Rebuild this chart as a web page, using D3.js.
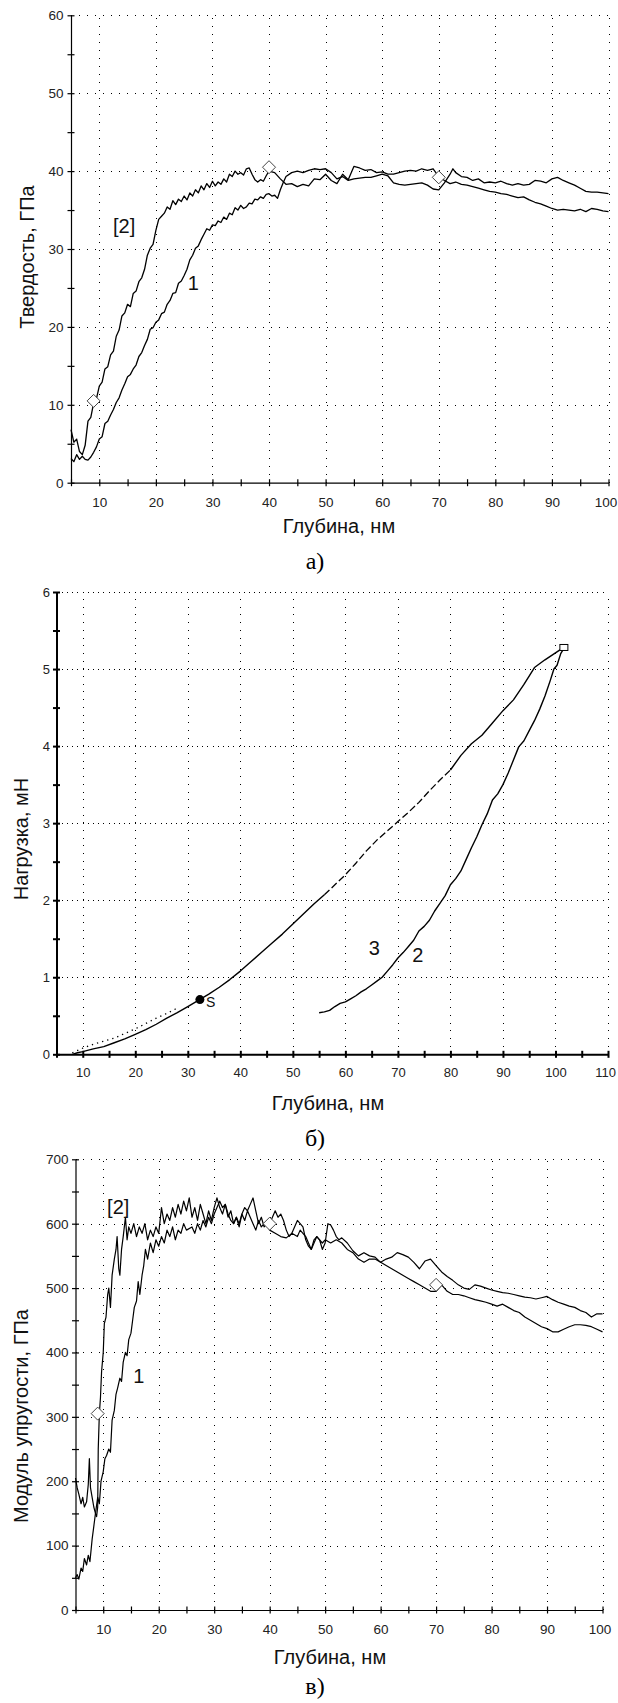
<!DOCTYPE html>
<html lang="ru">
<head>
<meta charset="utf-8">
<script src="https://d3js.org/d3.v7.min.js"></script>
<style>
  body { margin: 0; background: #fff; }
  svg { display: block; font-family: "Liberation Sans", Arial, sans-serif; }
  .curve { fill: none; stroke: #000; stroke-linejoin: round; }
  .title { font-size: 20px; fill: #111; }
  .note { font-size: 20px; fill: #111; }
  .caption { font-family: "Liberation Serif", "Times New Roman", serif; font-size: 24px; fill: #000; }
</style>
</head>
<body>
<script>
// ---- а) Твердость ----
var hardTicksX = [5,10,15,20,25,30,35,40,45,50,55,60,65,70,75,80,85,90,95,100];
var hardLabelsX = [10,20,30,40,50,60,70,80,90,100];
var hardTicksY = [0,5,10,15,20,25,30,35,40,45,50,55,60];
var hardLabelsY = [0,10,20,30,40,50,60];

var hard2 = [[5,6.8],[5.5,5.2],[6,5.6],[6.5,4.0],[7,3.6],[7.5,4.8],[8,7.9],[8.5,8.4],[9,10.2],[9.5,10.8],
  [10,12.4],[10.5,12.9],[11,14.6],[11.5,14.9],[12,16.4],[12.5,16.9],[13,18.8],[13.5,19.6],[14,21.4],[14.5,21.8],
  [15,22.9],[15.5,22.6],[16,24.3],[16.5,24.6],[17,25.8],[17.5,26.3],[18,27.4],[18.5,29.2],[19,30.1],[19.5,30.6],
  [20,32.4],[20.5,33.8],[21,34.2],[21.5,34.6],[22,35.4],[22.5,35.1],[23,36.2],[23.5,35.7],[24,36.4],[24.5,36.1],
  [25,36.8],[25.5,36.3],[26,37.2],[26.5,36.8],[27,37.6],[27.5,37.2],[28,38.1],[28.5,37.6],[29,38.4],[29.5,37.9],
  [30,38.7],[30.5,38.1],[31,38.6],[31.5,38.3],[32,39.0],[32.5,38.6],[33,39.6],[33.5,39.3],[34,40.0],[34.5,39.6],
  [35,39.8],[35.5,39.5],[36,40.3],[36.5,40.4],[37,39.6],[37.5,38.9],[38,38.6],[38.5,38.9],[39,38.7],[39.5,39.4],
  [40,40.0],[41,39.8],[42,39.0],[43,38.3],[44,38.4],[45,38.0],[46,38.3],[47,38.1],[48,39.0],[49,38.9],
  [50,39.6],[51,38.8],[52,38.4],[53,39.6],[54,38.9],[55,40.6],[56,40.4],[57,40.1],[58,40.2],[59,39.8],
  [60,39.9],[61,39.6],[62,39.6],[63,39.8],[64,40.0],[65,40.1],[66,40.0],[67,40.3],[68,40.1],[69,40.3],
  [70,39.3],[71,38.8],[72,38.4],[73,38.6],[74,38.3],[75,38.2],[76,38.0],[77,37.8],[78,37.6],[79,37.4],
  [80,37.3],[81,37.1],[82,37.0],[83,36.8],[84,36.6],[85,36.7],[86,36.3],[87,36.0],[88,35.8],[89,35.5],
  [90,35.2],[91,35.0],[92,35.1],[93,35.0],[94,34.9],[95,35.1],[96,34.8],[97,35.2],[98,35.1],[99,34.9],[100,34.8]];

var hard1 = [[5,3.1],[5.5,2.7],[6,3.6],[6.5,3.0],[7,3.4],[7.5,3.0],[8,2.9],[8.5,3.3],[9,3.9],[9.5,4.6],
  [10,5.6],[10.5,5.9],[11,7.6],[11.5,7.9],[12,8.7],[12.5,9.4],[13,10.3],[13.5,10.9],[14,11.9],[14.5,12.7],
  [15,13.6],[15.5,13.9],[16,14.6],[16.5,15.1],[17,16.2],[17.5,16.7],[18,17.6],[18.5,18.4],[19,19.7],[19.5,19.9],
  [20,20.6],[20.5,20.9],[21,21.7],[21.5,21.9],[22,22.9],[22.5,23.4],[23,24.3],[23.5,24.4],[24,25.6],[24.5,25.9],
  [25,26.6],[25.5,27.4],[26,28.6],[26.5,29.2],[27,30.1],[27.5,30.4],[28,31.2],[28.5,31.9],[29,32.6],[29.5,32.4],
  [30,33.1],[30.5,33.0],[31,33.6],[31.5,33.4],[32,34.1],[32.5,33.8],[33,34.6],[33.5,34.4],[34,35.3],[34.5,35.0],
  [35,35.6],[35.5,35.2],[36,35.4],[36.5,35.9],[37,35.8],[37.5,36.4],[38,36.3],[38.5,36.7],[39,36.5],[39.5,37.0],
  [40,37.1],[40.5,36.8],[41,36.9],[41.5,36.5],[42,37.6],[42.5,38.5],[43,39.3],[44,39.8],[45,40.0],[46,39.8],
  [47,40.1],[48,40.3],[49,40.2],[50,40.3],[51,39.8],[52,39.0],[53,39.3],[54,38.8],[55,39.0],[56,39.1],
  [57,39.2],[58,39.2],[59,39.4],[60,39.6],[61,39.4],[62,38.5],[63,38.3],[64,38.2],[65,38.3],[66,38.4],
  [67,38.5],[68,38.2],[69,37.7],[70,37.6],[71,38.5],[72,39.6],[72.5,40.3],[73,39.8],[74,39.3],[75,39.2],
  [76,38.8],[77,39.0],[78,38.5],[79,38.6],[80,38.5],[81,38.7],[82,38.4],[83,38.2],[84,38.4],[85,38.2],
  [86,38.3],[87,38.8],[88,38.7],[89,38.5],[90,39.0],[91,39.2],[92,38.8],[93,38.5],[94,38.2],[95,37.8],
  [96,37.4],[97,37.3],[98,37.3],[99,37.2],[100,37.1]];

var hardMarks = [[9,10.5],[40,40.5],[70,39.2]];

// ---- б) Нагрузка ----
var loadTicksX = [5,10,15,20,25,30,35,40,45,50,55,60,65,70,75,80,85,90,95,100,105,110];
var loadLabelsX = [10,20,30,40,50,60,70,80,90,100,110];
var loadTicksY = [0,0.5,1,1.5,2,2.5,3,3.5,4,4.5,5,5.5,6];
var loadLabelsY = [0,1,2,3,4,5,6];

var loading = [[8,0.0],[9,0.02],[10,0.035],[12,0.07],[14,0.1],[16,0.15],[18,0.2],[20,0.26],[22,0.32],
  [24,0.39],[26,0.47],[28,0.54],[30,0.62],[32,0.7],[34,0.78],[36,0.87],[38,0.97],[40,1.08],[42,1.2],
  [44,1.32],[46,1.44],[48,1.56],[50,1.69],[52,1.82],[54,1.95],[56,2.07],[58,2.2],[60,2.33],[62,2.48],
  [64,2.64],[66,2.78],[68,2.9],[70,3.02],[72,3.14],[74,3.27],[76,3.42],[78,3.56],[80,3.69],[82,3.88],
  [84,4.03],[86,4.14],[88,4.3],[90,4.46],[92,4.6],[94,4.8],[96,5.02],[98,5.12],[100,5.21],[101.8,5.29]];

var unloading = [[101.8,5.29],[101,5.2],[100.3,5.05],[99.7,5.0],[99,4.85],[98,4.65],[97,4.48],[96,4.33],
  [95,4.2],[94,4.07],[93,3.99],[92,3.82],[91,3.65],[90,3.5],[89,3.38],[88,3.3],[87,3.12],[86,2.98],
  [85,2.82],[84,2.68],[83,2.53],[82,2.38],[81,2.28],[80,2.2],[79,2.06],[78,1.96],[77,1.86],[76,1.74],
  [75,1.66],[74,1.6],[73,1.48],[72,1.4],[71,1.32],[70,1.25],[69,1.16],[68,1.08],[67,1.0],[66,0.95],
  [65,0.9],[64,0.85],[63,0.81],[62,0.76],[61,0.72],[60,0.68],[59,0.66],[58,0.62],[57,0.57],[56,0.55],[55,0.54]];

var fitDots = [[8,0.02],[10,0.08],[12,0.13],[14,0.17],[16,0.21],[18,0.27],[20,0.33],[22,0.4],[24,0.47],[26,0.53],[28,0.6]];

var loadDot = [32.3, 0.71];
var loadTop = [101.6, 5.28];

// ---- в) Модуль упругости ----
var modTicksX = [5,10,15,20,25,30,35,40,45,50,55,60,65,70,75,80,85,90,95,100];
var modLabelsX = [10,20,30,40,50,60,70,80,90,100];
var modTicksY = [0,50,100,150,200,250,300,350,400,450,500,550,600,650,700];
var modLabelsY = [0,100,200,300,400,500,600,700];

var mod2 = [[5,205],[5.3,190],[5.6,180],[6,165],[6.3,175],[6.6,160],[7,168],[7.3,195],[7.5,235],[7.7,190],
  [8,175],[8.3,160],[8.6,150],[8.8,145],[9,160],[9.1,250],[9.3,305],[9.5,330],[9.7,370],[10,400],
  [10.2,445],[10.5,455],[10.8,490],[11,500],[11.3,470],[11.6,520],[12,545],[12.3,560],[12.5,580],[12.8,530],
  [13,520],[13.3,560],[13.6,580],[14,610],[14.3,575],[14.6,595],[15,585],[15.5,600],[16,580],[16.5,595],
  [17,585],[17.5,600],[18,575],[18.5,590],[19,580],[19.5,595],[20,585],[20.5,625],[21,600],[21.5,615],
  [22,605],[22.5,625],[23,610],[23.5,630],[24,615],[24.5,635],[25,620],[25.5,640],[26,610],[26.5,625],
  [27,605],[27.5,630],[28,615],[28.5,600],[29,620],[29.5,605],[30,625],[30.5,640],[31,625],[31.5,615],
  [32,630],[32.5,610],[33,620],[33.5,600],[34,610],[34.5,595],[35,615],[35.5,605],[36,620],[36.5,610],
  [37,600],[37.5,590],[38,605],[38.5,595],[39,600],[40,600],[40.5,610],[41,620],[41.5,610],[42,615],
  [42.5,605],[43,590],[43.5,580],[44,585],[45,580],[45.5,590],[46,585],[46.5,580],[47,570],[47.5,560],
  [48,575],[48.5,580],[49,575],[49.5,570],[50,575],[51,570],[52,575],[53,570],[54,560],[55,555],
  [56,545],[57,540],[58,545],[59,545],[60,540],[61,535],[62,530],[63,525],[64,520],[65,515],
  [66,510],[67,505],[68,500],[69,495],[70,495],[71,505],[72,495],[73,490],[74,490],[75,488],
  [76,485],[77,482],[78,480],[79,478],[80,475],[81,472],[82,475],[83,470],[84,465],[85,462],
  [86,455],[87,450],[88,445],[89,440],[90,437],[91,432],[92,432],[93,436],[94,440],[95,443],
  [96,443],[97,442],[98,440],[99,436],[100,432]];

var mod1 = [[5,50],[5.3,55],[5.6,48],[6,65],[6.3,60],[6.6,80],[7,70],[7.3,85],[7.6,75],[8,110],
  [8.3,130],[8.6,150],[9,175],[9.3,165],[9.6,200],[10,215],[10.3,235],[10.6,240],[11,250],[11.3,245],
  [11.6,295],[12,310],[12.3,335],[12.6,345],[13,360],[13.3,355],[13.6,385],[14,400],[14.3,395],[14.6,420],
  [15,430],[15.3,450],[15.6,470],[16,480],[16.3,510],[16.6,490],[17,520],[17.3,535],[17.6,560],[18,545],
  [18.5,570],[19,555],[19.5,575],[20,565],[20.5,580],[21,570],[21.5,590],[22,580],[22.5,595],[23,575],
  [23.5,590],[24,585],[24.5,600],[25,590],[26,595],[26.5,585],[27,600],[27.5,590],[28,605],[28.5,595],
  [29,610],[29.5,600],[30,615],[30.5,625],[31,635],[31.5,625],[32,630],[32.5,615],[33,605],[33.5,600],
  [34,610],[34.5,600],[35,615],[35.5,625],[36,620],[36.5,630],[37,640],[37.5,620],[38,600],[38.5,610],
  [39,595],[39.5,600],[40,590],[41,585],[42,580],[43,578],[44,585],[45,605],[45.5,600],[46,595],
  [46.5,575],[47,565],[47.5,560],[48,570],[48.5,580],[49,575],[49.5,560],[50,570],[50.5,600],[51,598],
  [51.5,590],[52,580],[52.5,575],[53,578],[54,570],[55,558],[56,550],[57,555],[58,550],[59,548],
  [60,540],[61,545],[62,548],[63,555],[64,552],[65,548],[66,540],[67,530],[68,542],[69,545],
  [70,535],[71,525],[72,518],[73,512],[74,505],[75,500],[76,498],[77,505],[78,503],[79,500],
  [80,497],[81,495],[82,493],[83,492],[84,490],[85,488],[86,486],[87,485],[88,483],[89,485],
  [90,487],[91,482],[92,478],[93,475],[94,472],[95,470],[96,465],[97,462],[98,455],[99,460],[100,460]];

var modMarks = [[9,305],[40,600],[70,505]];

var svg = d3.select("body").append("svg")
  .attr("width", 618)
  .attr("height", 1703)
  .style("background-color", "white");

var diamond = "M0,-6.5L6.5,0L0,6.5L-6.5,0Z";

function drawPanel(p) {
  var x = d3.scaleLinear().domain(p.xDomain).range(p.xRange);
  var y = d3.scaleLinear().domain(p.yDomain).range(p.yRange);
  var g = svg.append("g");

  // dotted grid
  g.selectAll("line.vgrid").data(p.xLabels).enter().append("line")
    .attr("x1", function(d) { return Math.round(x(d)) + 0.5; })
    .attr("x2", function(d) { return Math.round(x(d)) + 0.5; })
    .attr("y1", y(p.yDomain[0])).attr("y2", y(p.yDomain[1]))
    .attr("stroke", "#000").attr("stroke-dasharray", p.vDash)
    .attr("shape-rendering", "crispEdges");
  g.selectAll("line.hgrid").data(p.yLabels.filter(function(d) { return d > p.yDomain[0]; })).enter().append("line")
    .attr("x1", x(p.xDomain[0])).attr("x2", x(p.xDomain[1]))
    .attr("y1", function(d) { return Math.round(y(d)) + 0.5; })
    .attr("y2", function(d) { return Math.round(y(d)) + 0.5; })
    .attr("stroke", "#000").attr("stroke-dasharray", p.hDash)
    .attr("shape-rendering", "crispEdges");

  // axes, ticks crossing the axis line
  var xAxis = d3.axisBottom(x).tickValues(p.xTicks).tickSizeInner(3).tickSizeOuter(0)
    .tickFormat(function(d) { return p.xLabels.indexOf(d) >= 0 ? d : ""; });
  var gx = g.append("g")
    .attr("transform", "translate(0," + y(p.yDomain[0]) + ")")
    .call(xAxis);
  gx.attr("font-family", null).attr("font-size", p.tickFont);
  gx.selectAll(".tick line").attr("y1", -3.5).attr("y2", 3.5).attr("stroke-width", p.axisWidth);
  gx.selectAll(".tick text").attr("y", p.xLabelDy).attr("dy", 0).attr("fill", "#222")
    .attr("x", function(d) { return d === p.xDomain[1] ? -3 : 0; });
  gx.select(".domain").attr("stroke-width", p.axisWidth);

  var yAxis = d3.axisLeft(y).tickValues(p.yTicks).tickSizeInner(3).tickSizeOuter(0)
    .tickFormat(function(d) { return p.yLabels.indexOf(d) >= 0 ? d : ""; });
  var gy = g.append("g")
    .attr("transform", "translate(" + x(p.xDomain[0]) + ",0)")
    .call(yAxis);
  gy.attr("font-family", null).attr("font-size", p.tickFont);
  gy.selectAll(".tick line").attr("x1", -3.5).attr("x2", 3.5).attr("stroke-width", p.axisWidth);
  gy.selectAll(".tick text").attr("x", p.yLabelDx).attr("fill", "#222");
  gy.select(".domain").attr("stroke-width", p.axisWidth);

  var line = d3.line()
    .x(function(d) { return x(d[0]); })
    .y(function(d) { return y(d[1]); });

  p.curves.forEach(function(c) {
    g.append("path")
      .datum(c.data)
      .attr("class", "curve")
      .attr("stroke-width", c.width || 1)
      .attr("stroke-dasharray", c.dash || null)
      .attr("d", line);
  });

  if (p.marks) {
    g.selectAll("path.mark").data(p.marks).enter().append("path")
      .attr("d", diamond)
      .attr("transform", function(d) { return "translate(" + x(d[0]) + "," + y(d[1]) + ")"; })
      .attr("fill", "white").attr("stroke", "#444").attr("stroke-width", 1);
  }

  p.notes.forEach(function(n) {
    g.append("text").attr("class", "note")
      .attr("x", x(n.at[0])).attr("y", y(n.at[1]))
      .attr("text-anchor", "middle").attr("dominant-baseline", "central")
      .text(n.text);
  });

  // axis titles and caption
  g.append("text").attr("class", "title")
    .attr("x", p.xTitle[0]).attr("y", p.xTitle[1])
    .attr("text-anchor", "middle").text("Глубина, нм");
  g.append("text").attr("class", "title")
    .attr("transform", "translate(" + p.yTitle[0] + "," + p.yTitle[1] + ") rotate(-90)")
    .attr("text-anchor", "middle").text(p.yTitleText);
  g.append("text").attr("class", "caption")
    .attr("x", p.caption[0]).attr("y", p.caption[1])
    .attr("text-anchor", "middle").text(p.captionText);

  return {x: x, y: y, g: g};
}

// а)
drawPanel({
  xDomain: [5, 100], xRange: [71, 608.5],
  yDomain: [0, 60], yRange: [482.7, 15.3],
  xTicks: hardTicksX, xLabels: hardLabelsX,
  yTicks: hardTicksY, yLabels: hardLabelsY,
  vDash: "1,7", hDash: "1,7",
  tickFont: "13.5px", axisWidth: 1.2,
  xLabelDy: 24.5, yLabelDx: -7.5,
  curves: [{data: hard1, width: 1.3}, {data: hard2, width: 1.3}],
  marks: hardMarks,
  notes: [{text: "[2]", at: [14.4, 32.9]}, {text: "1", at: [26.6, 25.6]}],
  xTitle: [339, 533], yTitle: [34, 257], yTitleText: "Твердость, ГПа",
  caption: [315, 569], captionText: "а)"
});

// б)
var pb = drawPanel({
  xDomain: [5, 110], xRange: [56.5, 608],
  yDomain: [0, 6], yRange: [1054.3, 592],
  xTicks: loadTicksX, xLabels: loadLabelsX,
  yTicks: loadTicksY, yLabels: loadLabelsY,
  vDash: "1,6.7", hDash: "1,4.2",
  tickFont: "13px", axisWidth: 2,
  xLabelDy: 22.5, yLabelDx: -6.5,
  curves: [
    {data: loading.filter(function(d) { return d[0] <= 56; }), width: 1.4},
    {data: loading.filter(function(d) { return d[0] >= 56 && d[0] <= 80; }), width: 1.3, dash: "7,3"},
    {data: loading.filter(function(d) { return d[0] >= 80; }), width: 1.4},
    {data: unloading, width: 1.4},
    {data: fitDots, width: 1.3, dash: "1.3,4"}
  ],
  notes: [{text: "3", at: [65.5, 1.38]}, {text: "2", at: [73.8, 1.29]}],
  xTitle: [328, 1110], yTitle: [28, 839], yTitleText: "Нагрузка, мН",
  caption: [315, 1146], captionText: "б)"
});
pb.g.append("circle")
  .attr("cx", pb.x(loadDot[0])).attr("cy", pb.y(loadDot[1]))
  .attr("r", 4.5).attr("fill", "#000");
pb.g.append("text")
  .attr("x", pb.x(loadDot[0]) + 6).attr("y", pb.y(loadDot[1]) + 7)
  .attr("font-size", 14).attr("fill", "#111").text("S");
pb.g.append("rect")
  .attr("x", pb.x(loadTop[0]) - 4).attr("y", pb.y(loadTop[1]) - 3)
  .attr("width", 8).attr("height", 6)
  .attr("fill", "white").attr("stroke", "#000").attr("stroke-width", 1);

// в)
drawPanel({
  xDomain: [5, 100], xRange: [75.5, 602.5],
  yDomain: [0, 700], yRange: [1610, 1159.3],
  xTicks: modTicksX, xLabels: modLabelsX,
  yTicks: modTicksY, yLabels: modLabelsY,
  vDash: "1,7", hDash: "1,6.7",
  tickFont: "13.5px", axisWidth: 1.2,
  xLabelDy: 24, yLabelDx: -7,
  curves: [{data: mod1, width: 1.2}, {data: mod2, width: 1.2}],
  marks: modMarks,
  notes: [{text: "[2]", at: [12.7, 626]}, {text: "1", at: [16.4, 364]}],
  xTitle: [330, 1664], yTitle: [28.2, 1416], yTitleText: "Модуль упругости, ГПа",
  caption: [315, 1694], captionText: "в)"
});
</script>
</body>
</html>
